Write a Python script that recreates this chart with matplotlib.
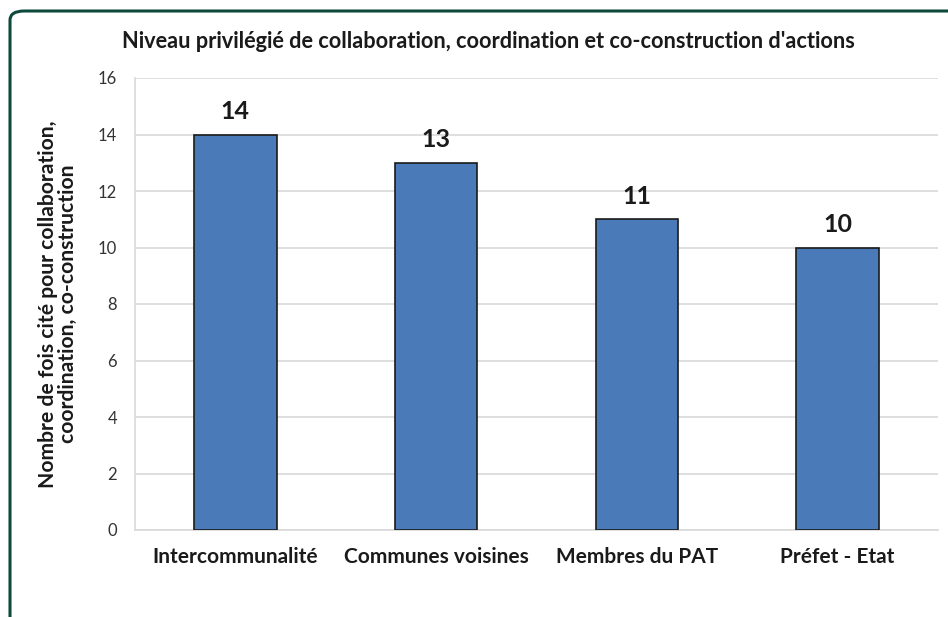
import matplotlib
matplotlib.use("Agg")
import matplotlib.pyplot as plt
from matplotlib.patches import FancyBboxPatch

categories = ["Intercommunalité", "Communes voisines", "Membres du PAT", "Préfet - Etat"]
values = [14, 13, 11, 10]
yticks = [0, 2, 4, 6, 8, 10, 12, 14, 16]

title = "Niveau privilégié de collaboration, coordination et co-construction d'actions"
ylabel = "Nombre de fois cité pour collaboration,\ncoordination, co-construction"

plt.rcParams['font.family'] = ['Lato', 'DejaVu Sans']

W, H = 948, 617
fig = plt.figure(figsize=(W / 100, H / 100), dpi=100)
fig.patch.set_facecolor("white")

# dark green frame (cropped on right/bottom)
frame = FancyBboxPatch((10 / W, -40 / H), 980 / W, (617 - 11 + 40) / H,
                       boxstyle="round,pad=0,rounding_size=0.015",
                       transform=fig.transFigure, facecolor="none",
                       edgecolor="#0d4a3c", linewidth=2.2, zorder=-5)
fig.patches.append(frame)

left, right, top, bottom = 135, 938, 78, 530
ax = fig.add_axes([left / W, 1 - bottom / H, (right - left) / W, (bottom - top) / H])
ax.set_facecolor("none")

x = range(len(categories))
ax.bar(x, values, width=0.41, color="#4a7bb8", edgecolor="#1a1a1a", linewidth=1.2, zorder=3)
for xi, v in zip(x, values):
    ax.text(xi, v + 0.4, str(v), ha="center", va="bottom", fontsize=18,
            fontweight="bold", color="#1a1a1a")

ax.set_xlim(-0.5, len(categories) - 0.5)
ax.set_ylim(0, 16)
ax.set_yticks(yticks)
ax.set_yticklabels([str(t) for t in yticks], fontsize=12, color="#333333")
ax.set_xticks(list(x))
ax.set_xticklabels(categories, fontsize=15, fontweight="bold", color="#1a1a1a")
ax.tick_params(axis="both", length=0)
ax.tick_params(axis="y", pad=13)
ax.tick_params(axis="x", pad=12)

ax.yaxis.grid(True, color="#d9d9d9", linewidth=1.2, zorder=0)
ax.set_axisbelow(True)
for s in ["top", "right"]:
    ax.spines[s].set_visible(False)
ax.spines["left"].set_color("#d9d9d9")
ax.spines["left"].set_linewidth(1.2)
ax.spines["bottom"].set_color("#d9d9d9")
ax.spines["bottom"].set_linewidth(1.2)

ax.set_ylabel(ylabel, fontsize=15.2, fontweight="bold", color="#1a1a1a",
              linespacing=1.0)
ax.yaxis.set_label_coords(-57 / (right - left), 0.5)

fig.text(488 / W, 1 - 42 / H, title, ha="center", va="center",
         fontsize=15.7, fontweight="bold", color="#1a1a1a")

fig.savefig("out.png", dpi=100, facecolor="white")
